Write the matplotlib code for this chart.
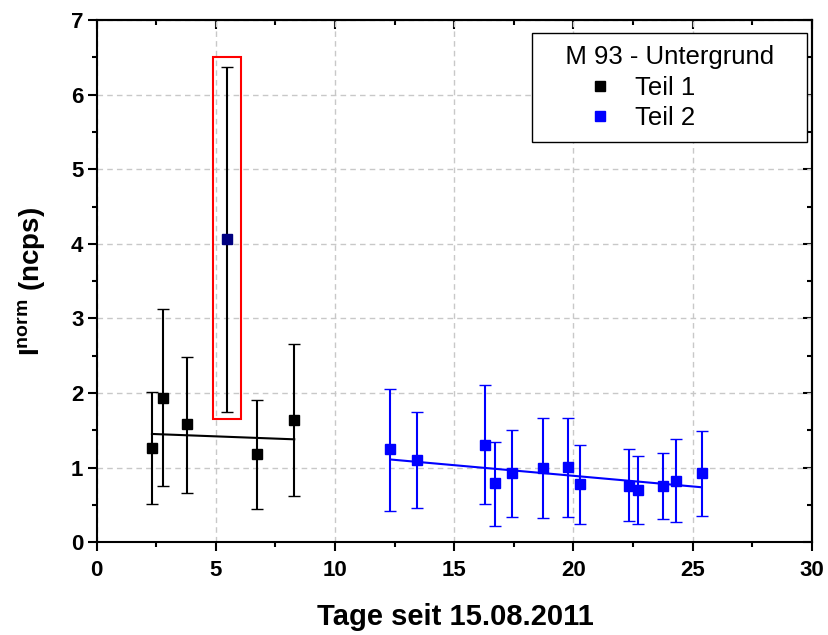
import numpy as np
import matplotlib
matplotlib.use("Agg")
import matplotlib.pyplot as plt
from matplotlib.lines import Line2D
from matplotlib.patches import Rectangle
from matplotlib.ticker import MultipleLocator

plt.rcParams['font.family'] = ['Liberation Sans', 'DejaVu Sans']
plt.rcParams['mathtext.fontset'] = 'custom'
plt.rcParams['mathtext.rm'] = 'Liberation Sans'
plt.rcParams['mathtext.bf'] = 'Liberation Sans:bold'

# Teil 1 (days since 15.08.2011, normalised intensity, error bar bounds)
days1 = [2.32, 2.77, 3.78, 6.73, 8.29]
vals1 = [1.26, 1.94, 1.58, 1.18, 1.64]
low1 = [0.51, 0.755, 0.66, 0.44, 0.62]
high1 = [2.02, 3.13, 2.49, 1.91, 2.66]

# Excluded outlier of Teil 1
day_out = [5.455]
val_out = [4.06]
low_out = [1.74]
high_out = [6.37]

# Teil 2
days2 = [12.32, 13.44, 16.31, 16.73, 17.44, 18.73, 19.76, 20.28, 22.34,
         22.73, 23.76, 24.32, 25.39]
vals2 = [1.245, 1.10, 1.31, 0.79, 0.925, 0.99, 1.005, 0.78, 0.76,
         0.70, 0.75, 0.825, 0.925]
low2 = [0.42, 0.46, 0.51, 0.22, 0.34, 0.32, 0.34, 0.25, 0.28,
        0.24, 0.31, 0.27, 0.35]
high2 = [2.06, 1.74, 2.11, 1.35, 1.50, 1.67, 1.67, 1.30, 1.25,
         1.16, 1.20, 1.39, 1.49]

# Linear fits (intercept, slope)
fit1 = (1.480, -0.01206)
fit2 = (1.461, -0.0285)

# Frame around the outlier (x0, x1, y0, y1)
outlier_box = (4.87, 6.04, 1.65, 6.51)

legend_title = "M 93 - Untergrund"
labels = ["Teil 1", "Teil 2"]

fig = plt.figure(figsize=(8.29, 6.35), dpi=100)
ax = fig.add_axes([0.1166, 0.1460, 0.8625, 0.8225])


def yerr(vals, lo, hi):
    v = np.asarray(vals)
    return [v - np.asarray(lo), np.asarray(hi) - v]


ebkw = dict(fmt='s', markersize=7.5, markeredgewidth=1, elinewidth=1.5,
            capsize=4, capthick=1.5, zorder=3)

ax.errorbar(days1, vals1, yerr=yerr(vals1, low1, high1), color='black',
            ecolor='black', **ebkw)
ax.errorbar(day_out, val_out, yerr=yerr(val_out, low_out, high_out),
            color='#000080', ecolor='black', **ebkw)
ax.errorbar(days2, vals2, yerr=yerr(vals2, low2, high2), color='#0000ff',
            ecolor='#0000ff', **ebkw)

xf1 = np.array([days1[0], days1[-1]])
ax.plot(xf1, fit1[0] + fit1[1] * xf1, color='black', lw=1.5, zorder=2)
xf2 = np.array([days2[0], days2[-1]])
ax.plot(xf2, fit2[0] + fit2[1] * xf2, color='#0000ff', lw=1.5, zorder=2)

bx0, bx1, by0, by1 = outlier_box
ax.add_patch(Rectangle((bx0, by0), bx1 - bx0, by1 - by0, fill=False,
                       edgecolor='#ff0000', lw=1.5, zorder=4))

ax.set_xlim(0, 30)
ax.set_ylim(0, 7)
ax.xaxis.set_major_locator(MultipleLocator(5))
ax.xaxis.set_minor_locator(MultipleLocator(2.5))
ax.yaxis.set_major_locator(MultipleLocator(1))
ax.yaxis.set_minor_locator(MultipleLocator(0.5))

ax.grid(True, which='major', color='#c8c8c8', linestyle=(0, (4, 3)), lw=1)
ax.set_axisbelow(True)

for sp in ax.spines.values():
    sp.set_linewidth(1.5)

ax.tick_params(which='major', direction='out', length=6.5, width=1.5,
               labelsize=16)
ax.tick_params(which='minor', direction='out', length=3.5, width=1.5)
ax.tick_params(axis='x', which='major', pad=6)
ax.tick_params(axis='y', which='major', pad=3)
for lab in ax.get_xticklabels() + ax.get_yticklabels():
    lab.set_fontweight('bold')

# mirrored ticks pointing inwards on top and right
top = ax.secondary_xaxis('top')
top.xaxis.set_major_locator(MultipleLocator(5))
top.xaxis.set_minor_locator(MultipleLocator(2.5))
top.tick_params(which='major', direction='in', length=6.5, width=1.5,
                labeltop=False)
top.tick_params(which='minor', direction='in', length=3.5, width=1.5)
top.spines['top'].set_linewidth(1.5)
right = ax.secondary_yaxis('right')
right.yaxis.set_major_locator(MultipleLocator(1))
right.yaxis.set_minor_locator(MultipleLocator(0.5))
right.tick_params(which='major', direction='in', length=6.5, width=1.5,
                  labelright=False)
right.tick_params(which='minor', direction='in', length=3.5, width=1.5)
right.spines['right'].set_linewidth(1.5)

ax.set_xlabel("Tage seit 15.08.2011", fontsize=21, fontweight='bold')
ax.xaxis.set_label_coords(0.501, -0.116)
ax.set_ylabel(r"$\mathbf{I}^{\mathbf{norm}}$ (ncps)", fontsize=20,
              fontweight='bold')
ax.yaxis.set_label_coords(-0.068, 0.5)

handles = [Line2D([], [], marker='s', linestyle='none', color='black',
                  markersize=7),
           Line2D([], [], marker='s', linestyle='none', color='#0000ff',
                  markersize=7)]
# padded strings keep the entries left of centre inside the wide frame
leg = ax.legend(handles, [l + " " * 8 for l in labels],
                title="   " + legend_title + "   ",
                loc='upper right', bbox_to_anchor=(0.9934, 0.9751),
                borderaxespad=0, fontsize=18.5, title_fontsize=18.5,
                frameon=True, fancybox=False, framealpha=1,
                edgecolor='black', handlelength=1.0, handletextpad=0.85,
                labelspacing=0.27, borderpad=0.45, alignment='center')
leg.get_frame().set_linewidth(1.0)

fig.savefig("out.png", dpi=100)
